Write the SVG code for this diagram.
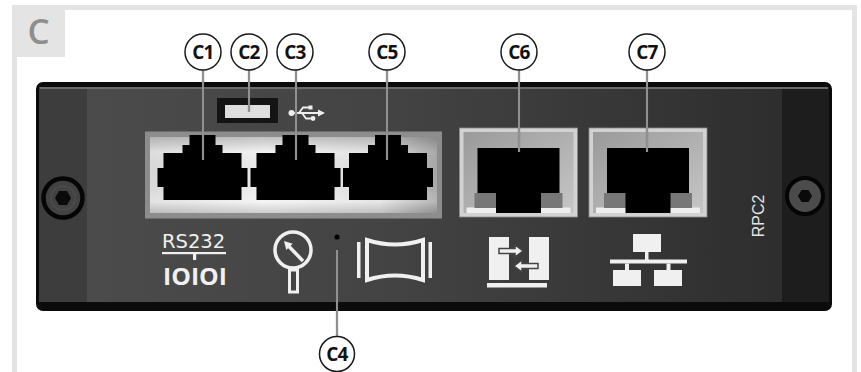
<svg xmlns="http://www.w3.org/2000/svg" width="861" height="372" viewBox="0 0 861 372">
  <defs>
    <style>
      .frame { fill: none; stroke: #e4e4e4; stroke-width: 5; }
      .tag { fill: #e4e4e4; }
      .tagtxt { font-family: "Open Sans", "Liberation Sans", sans-serif; font-weight: 600; font-size: 35px; fill: #8e8e8e; }
      .callout circle { fill: #fff; stroke: #1a1a1a; stroke-width: 1.5; }
      .callout text { font-family: "Open Sans", "Liberation Sans", sans-serif; font-weight: 700; font-size: 19px; fill: #111; text-anchor: middle; letter-spacing: -0.8px; }
      .lead-back { stroke: #5a5a5a; stroke-width: 2.2; fill: none; }
      .lead { stroke: #d4d4d4; stroke-width: 0.9; fill: none; }
      .icon { fill: #f0f0f0; }
      .iconline { fill: none; stroke: #f0f0f0; stroke-linejoin: miter; }
      .jack { fill: #000; }
    </style>
    <linearGradient id="bodyGrad" x1="0" y1="0" x2="1" y2="0">
      <stop offset="0" stop-color="#4c4c4c"/>
      <stop offset="0.45" stop-color="#434343"/>
      <stop offset="1" stop-color="#2b2b2b"/>
    </linearGradient>
    <linearGradient id="wideBezel" x1="0" y1="0" x2="1" y2="0">
      <stop offset="0" stop-color="#dedede"/>
      <stop offset="0.4" stop-color="#f3f3f3"/>
      <stop offset="0.8" stop-color="#e2e2e2"/>
      <stop offset="1" stop-color="#a9a9a9"/>
    </linearGradient>
    <linearGradient id="wideShade" x1="0" y1="0" x2="0" y2="1">
      <stop offset="0" stop-color="#000" stop-opacity="0.2"/>
      <stop offset="0.2" stop-color="#000" stop-opacity="0"/>
      <stop offset="0.85" stop-color="#fff" stop-opacity="0.15"/>
      <stop offset="1" stop-color="#000" stop-opacity="0.15"/>
    </linearGradient>
    <linearGradient id="smallBezel" x1="0" y1="0" x2="1" y2="1">
      <stop offset="0" stop-color="#9a9a9a"/>
      <stop offset="1" stop-color="#c6c6c6"/>
    </linearGradient>
    <!-- stepped RJ-style socket, centred on x = 0 -->
    <path id="wideJack" class="jack" d="M-13,135 H13 V145 H20 V153 H39 V168 H45 V187 H39 V200 H-39 V187 H-45 V168 H-39 V153 H-20 V145 H-13 Z"/>
    <!-- Ethernet socket with its bezel, centred on x = 0 -->
    <g id="lanPort">
      <rect x="-59" y="128" width="118" height="89" fill="#d2d2d2" stroke="#8a8a8a" stroke-width="0.8"/>
      <rect x="-55" y="132" width="110" height="81" fill="url(#smallBezel)"/>
      <rect x="-52" y="207.5" width="104" height="5.5" fill="#eeeeee"/>
      <rect x="-44" y="193" width="22" height="15" fill="#777"/>
      <rect x="22" y="193" width="22" height="15" fill="#777"/>
      <path class="jack" d="M-41,148 H41 V193 H22.5 V213 H-22.5 V193 H-41 Z"/>
    </g>
  </defs>

  <!-- outer page frame and section tag -->
  <rect class="frame" x="14.5" y="7.5" width="840" height="400"/>
  <rect class="tag" x="12" y="5" width="53" height="52"/>
  <text class="tagtxt" x="38.5" y="43.5" text-anchor="middle">C</text>

  <!-- module front plate -->
  <g id="panel">
    <rect x="36" y="82" width="796" height="229" rx="7" fill="#0b0b0b"/>
    <rect x="39" y="87" width="790" height="215" fill="url(#bodyGrad)"/>
    <rect x="39" y="87" width="48" height="215" fill="#3d3d3d"/>
    <rect x="782" y="87" width="47" height="215" fill="#1d1d1d"/>
    <rect x="40" y="87" width="788" height="2" fill="#6c6c6c"/>
  </g>

  <!-- fixing screws -->
  <g id="screw-left">
    <circle cx="63" cy="198" r="19.5" fill="#424242" stroke="#050505" stroke-width="4.5"/>
    <circle cx="63" cy="198" r="12" fill="none" stroke="#4a4a4a" stroke-width="2"/>
    <polygon points="71,198 67,205 59,205 55,198 59,191 67,191" fill="#0a0a0a"/>
  </g>
  <g id="screw-right">
    <circle cx="805" cy="196" r="18" fill="#4b4b4b" stroke="#050505" stroke-width="4"/>
    <polygon points="812,196 808.5,202 801.5,202 798,196 801.5,190 808.5,190" fill="#0a0a0a"/>
  </g>

  <!-- serial / service sockets -->
  <g id="port-c1-c3-c5">
    <rect x="145" y="131.5" width="297" height="87" fill="#8d8d8d"/>
    <rect x="150" y="137" width="287" height="76" fill="url(#wideBezel)"/>
    <rect x="150" y="137" width="287" height="76" fill="url(#wideShade)"/>
    <use href="#wideJack" x="202.5"/>
    <use href="#wideJack" x="295.5"/>
    <use href="#wideJack" x="388"/>
  </g>

  <!-- USB slot and symbol -->
  <g id="usb">
    <rect x="217" y="98" width="61" height="25" fill="#141414"/>
    <rect x="225" y="105" width="45" height="13" fill="#dedede"/>
    <g fill="#eeeeee" stroke="#eeeeee">
      <circle cx="291.5" cy="113" r="3" stroke="none"/>
      <line x1="291" y1="113" x2="318" y2="113" stroke-width="2"/>
      <polygon points="318,109.5 325,113 318,116.5" stroke="none"/>
      <polyline points="299,113 303,107.5 309,107.5" fill="none" stroke-width="1.8"/>
      <rect x="308.5" y="105.5" width="4" height="4" stroke="none"/>
      <polyline points="302,113 306,118.5 311,118.5" fill="none" stroke-width="1.8"/>
      <circle cx="313" cy="118.5" r="2.4" stroke="none"/>
    </g>
  </g>

  <!-- Ethernet sockets -->
  <g id="port-c6"><use href="#lanPort" x="518.5"/></g>
  <g id="port-c7"><use href="#lanPort" x="648"/></g>

  <!-- reset pinhole -->
  <g id="reset-c4">
    <circle cx="337" cy="237" r="2.6" fill="#000"/>
  </g>

  <!-- printed symbols -->
  <g id="icon-rs232">
    <text x="162" y="248" font-family="'DejaVu Sans', 'Liberation Sans', sans-serif" font-size="19.5" fill="#f0f0f0">RS232</text>
    <rect class="icon" x="162" y="252" width="64" height="2.2"/>
    <rect class="icon" x="193" y="254" width="3.2" height="6"/>
    <text x="163" y="285" textLength="64" lengthAdjust="spacingAndGlyphs" font-family="'Open Sans', 'Liberation Sans', sans-serif" font-weight="700" font-size="23" fill="#f0f0f0">IOIOI</text>
  </g>
  <g id="icon-gauge">
    <circle class="iconline" cx="293" cy="250" r="18" stroke-width="3.5"/>
    <line class="iconline" x1="303" y1="261" x2="289" y2="246.5" stroke-width="3.5"/>
    <polygon class="icon" points="284,241 292.7,243.7 286.3,249.9"/>
    <rect x="289.5" y="270" width="8" height="22" fill="#444" stroke="#f0f0f0" stroke-width="3"/>
  </g>
  <g id="icon-display">
    <rect class="icon" x="357" y="242" width="3.5" height="36"/>
    <rect class="icon" x="428.5" y="242" width="3.5" height="36"/>
    <path class="iconline" d="M367,240 Q395,249 423,240 V280 Q395,271 367,280 Z" stroke-width="4"/>
  </g>
  <g id="icon-transfer">
    <rect class="icon" x="489" y="237" width="20" height="43"/>
    <rect class="icon" x="529" y="237" width="20" height="43"/>
    <rect class="icon" x="487" y="283" width="60" height="4.5"/>
    <path d="M499,248.5 H515 V245 L523,251 L515,257 V253.5 H499 Z" fill="#f0f0f0" stroke="#444" stroke-width="1.5"/>
    <path d="M538,263.5 H522 V260 L514,266 L522,272 V268.5 H538 Z" fill="#f0f0f0" stroke="#444" stroke-width="1.5"/>
  </g>
  <g id="icon-network">
    <rect class="icon" x="633" y="234" width="28" height="18"/>
    <rect class="icon" x="645" y="252" width="3.5" height="8"/>
    <rect class="icon" x="610" y="259.5" width="77" height="4"/>
    <rect class="icon" x="625" y="263.5" width="4" height="7"/>
    <rect class="icon" x="666.5" y="263.5" width="4" height="7"/>
    <rect class="icon" x="613" y="270" width="28" height="16"/>
    <rect class="icon" x="654" y="270" width="28" height="16"/>
  </g>
  <text transform="translate(764,216) rotate(-90)" text-anchor="middle" font-family="'Liberation Sans', Arial, sans-serif" font-size="16" fill="#e4e4e4">RPC2</text>

  <!-- leader lines: dark edge with a light core -->
  <g id="connectors">
    <g class="lead-back">
      <line x1="203" y1="70" x2="203" y2="160"/>
      <line x1="249" y1="70" x2="249" y2="112"/>
      <line x1="296" y1="70" x2="296" y2="160"/>
      <line x1="387" y1="70" x2="387" y2="160"/>
      <line x1="519" y1="70" x2="519" y2="152"/>
      <line x1="647" y1="70" x2="647" y2="152"/>
      <line x1="337" y1="250" x2="337" y2="336.5"/>
    </g>
    <g class="lead">
      <line x1="203" y1="70" x2="203" y2="160"/>
      <line x1="249" y1="70" x2="249" y2="112"/>
      <line x1="296" y1="70" x2="296" y2="160"/>
      <line x1="387" y1="70" x2="387" y2="160"/>
      <line x1="519" y1="70" x2="519" y2="152"/>
      <line x1="647" y1="70" x2="647" y2="152"/>
      <line x1="337" y1="250" x2="337" y2="336.5"/>
    </g>
  </g>

  <!-- callout markers -->
  <g id="label-c1" class="callout"><circle cx="203" cy="52" r="18"/><text x="203" y="59">C1</text></g>
  <g id="label-c2" class="callout"><circle cx="249" cy="52" r="18"/><text x="249" y="59">C2</text></g>
  <g id="label-c3" class="callout"><circle cx="295" cy="52" r="18"/><text x="295" y="59">C3</text></g>
  <g id="label-c5" class="callout"><circle cx="387" cy="52" r="18"/><text x="387" y="59">C5</text></g>
  <g id="label-c6" class="callout"><circle cx="519" cy="52" r="18"/><text x="519" y="59">C6</text></g>
  <g id="label-c7" class="callout"><circle cx="647" cy="52" r="18"/><text x="647" y="59">C7</text></g>
  <g id="label-c4" class="callout"><circle cx="337" cy="354" r="17.5"/><text x="337" y="361">C4</text></g>
</svg>
